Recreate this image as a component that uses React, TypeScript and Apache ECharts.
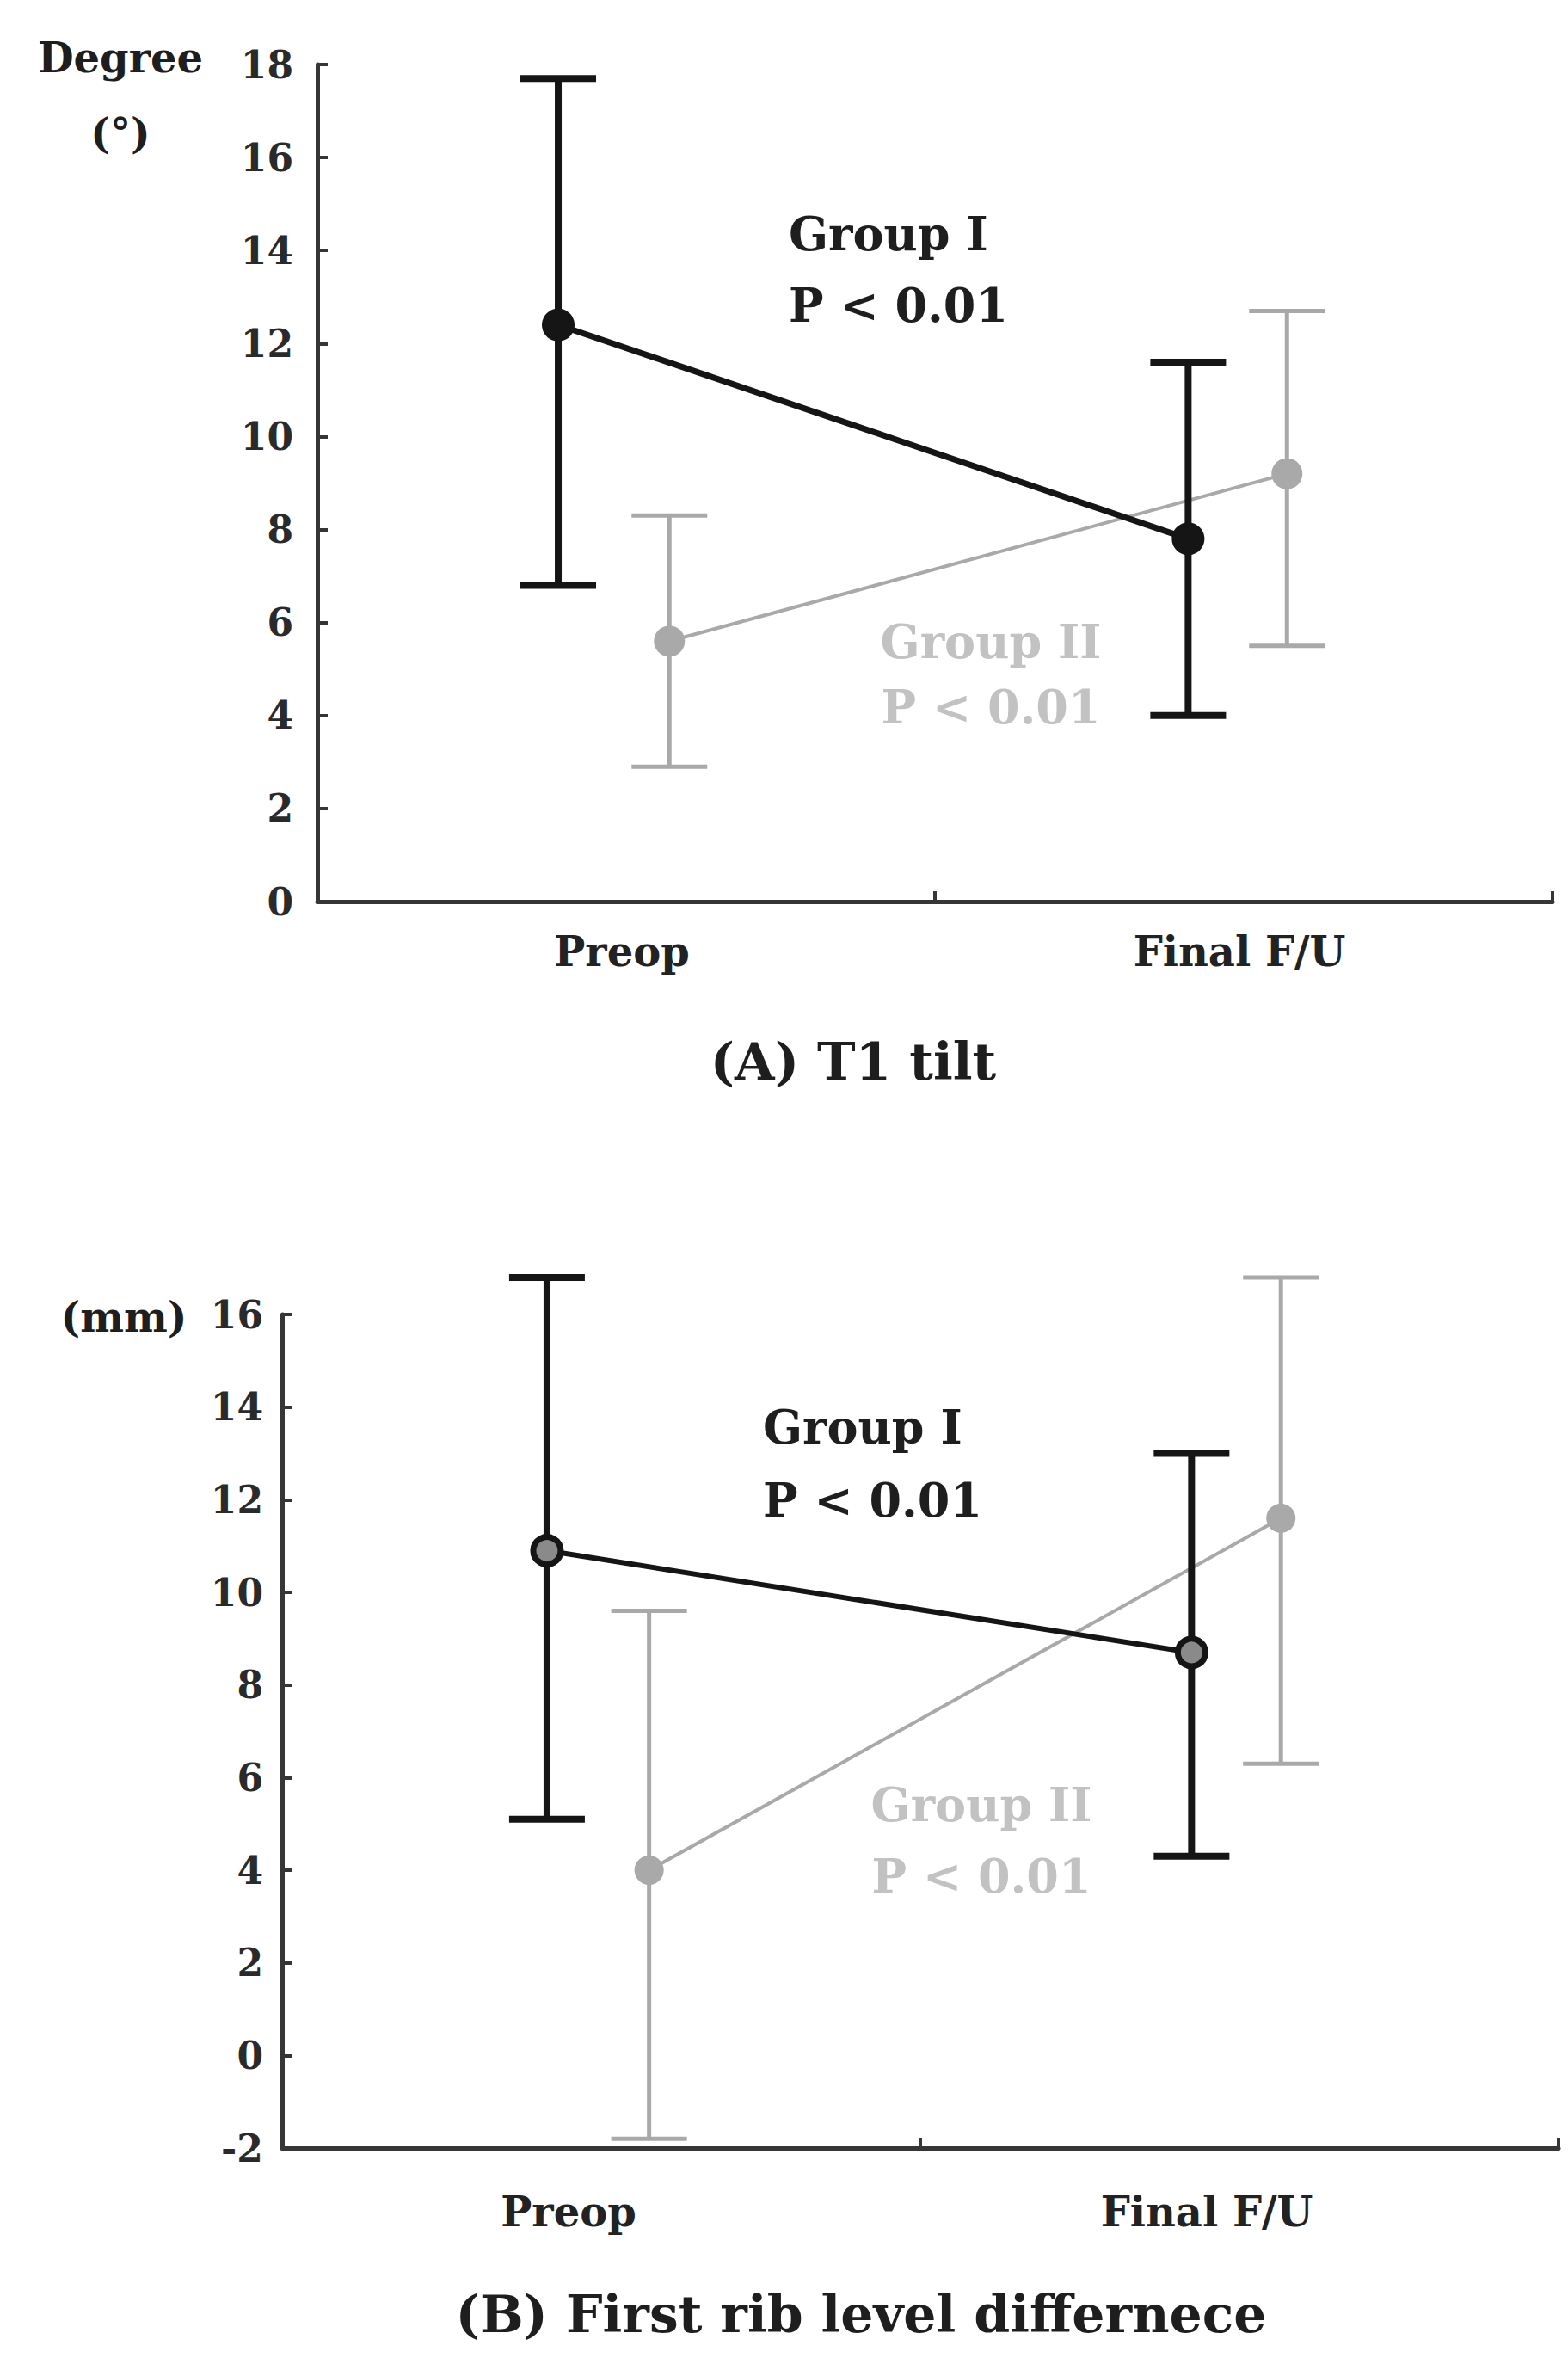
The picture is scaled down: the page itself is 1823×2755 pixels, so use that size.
import React, { useEffect, useRef } from "react";
import * as echarts from "echarts";

// ---------- data ----------
const categories = ["Preop", "Final F/U"];

// (A) T1 tilt, degrees
const tiltYTicks = { min: 0, max: 18, interval: 2 };
const tiltG1Pos = [0.39, 1.41];
const tiltG1Mean = [12.4, 7.8];
const tiltG1Upper = [17.7, 11.6];
const tiltG1Lower = [6.8, 4.0];
const tiltG2Pos = [0.57, 1.57];
const tiltG2Mean = [5.6, 9.2];
const tiltG2Upper = [8.3, 12.7];
const tiltG2Lower = [2.9, 5.5];

// (B) First rib level difference, mm
const ribYTicks = { min: -2, max: 16, interval: 2 };
const ribG1Pos = [0.415, 1.425];
const ribG1Mean = [10.9, 8.7];
const ribG1Upper = [16.8, 13.0];
const ribG1Lower = [5.1, 4.3];
const ribG2Pos = [0.575, 1.565];
const ribG2Mean = [4.0, 11.6];
const ribG2Upper = [9.6, 16.8];
const ribG2Lower = [-1.8, 6.3];

const titleA = "(A) T1 tilt";
const titleB = "(B) First rib level differnece";
const groupILabel = "Group I";
const groupIILabel = "Group II";
const pLabel = "P < 0.01";

// ---------- styles ----------
const FONT = "DejaVu Serif";
const BLACK = "#151515";
const GRAY = "#a9a9a9";
const GRAY_TEXT = "#c2c2c2";
const AXIS = "#363636";

function errorSeries(name: string, xIdx: number, yIdx: number, pos: number[], lo: number[], hi: number[], color: string, width: number, cap: number) {
  return {
    name,
    type: "custom",
    xAxisIndex: xIdx,
    yAxisIndex: yIdx,
    encode: { x: 0, y: [1, 2] },
    data: pos.map((p, i) => [p, lo[i], hi[i]]),
    z: 3,
    renderItem: (params: any, api: any) => {
      const x = api.value(0);
      const a = api.coord([x, api.value(1)]);
      const b = api.coord([x, api.value(2)]);
      const half = cap / 2;
      const style = { stroke: color, lineWidth: width };
      return {
        type: "group",
        children: [
          { type: "line", shape: { x1: a[0], y1: a[1], x2: b[0], y2: b[1] }, style },
          { type: "line", shape: { x1: a[0] - half, y1: a[1], x2: a[0] + half, y2: a[1] }, style },
          { type: "line", shape: { x1: b[0] - half, y1: b[1], x2: b[0] + half, y2: b[1] }, style },
        ],
      };
    },
  };
}

function meanSeries(name: string, xIdx: number, yIdx: number, pos: number[], mean: number[], color: string, lineW: number, symbol: string, size: number, fill: string, border: number, z: number) {
  return {
    name,
    type: "line",
    xAxisIndex: xIdx,
    yAxisIndex: yIdx,
    data: pos.map((p, i) => [p, mean[i]]),
    symbol,
    symbolSize: size,
    lineStyle: { color, width: lineW },
    itemStyle: { color: fill, borderColor: color, borderWidth: border },
    z,
  };
}

function catAxis(gridIndex: number, labelPadRight: number, margin: number) {
  return {
    type: "category",
    gridIndex,
    data: categories,
    boundaryGap: true,
    axisLine: { show: true, onZero: false, lineStyle: { color: AXIS, width: 5 } },
    axisTick: { show: true, inside: true, length: 12, interval: 0, lineStyle: { color: AXIS, width: 4 } },
    axisLabel: {
      show: true,
      interval: 0,
      fontFamily: FONT,
      fontWeight: "bold",
      fontSize: 48,
      color: "#222",
      margin,
      padding: [0, labelPadRight, 0, 0],
    },
    splitLine: { show: false },
  };
}

function valXAxis(gridIndex: number) {
  return { type: "value", gridIndex, min: 0, max: 2, show: false };
}

function yAxis(gridIndex: number, t: { min: number; max: number; interval: number }, margin: number) {
  return {
    type: "value",
    gridIndex,
    min: t.min,
    max: t.max,
    interval: t.interval,
    axisLine: { show: true, onZero: false, lineStyle: { color: AXIS, width: 5 } },
    axisTick: { show: true, inside: true, length: 12, lineStyle: { color: AXIS, width: 4 } },
    axisLabel: { fontFamily: FONT, fontWeight: "bold", fontSize: 44, color: "#2a2a2a", margin },
    splitLine: { show: false },
  };
}

function txt(text: string, x: number, y: number, size: number, color: string, align: string = "center") {
  return {
    type: "text",
    x,
    y,
    style: { text, fontFamily: FONT, fontWeight: "bold", fontSize: size, fill: color, textAlign: align, textVerticalAlign: "middle" },
  };
}

export default function App() {
  const ref = useRef<HTMLDivElement>(null);
  useEffect(() => {
    if (!ref.current) return;
    const chart = echarts.init(ref.current, null, { renderer: "svg" });
    chart.setOption({
      animation: false,
      backgroundColor: "#ffffff",
      grid: [
        { left: 369, top: 75, width: 1436, height: 973 },
        { left: 328, top: 1528, width: 1484, height: 969 },
      ],
      xAxis: [catAxis(0, 10, 34), valXAxis(0), catAxis(1, 76, 50), valXAxis(1)],
      yAxis: [yAxis(0, tiltYTicks, 28), yAxis(1, ribYTicks, 22)],
      series: [
        meanSeries("A Group II", 1, 0, tiltG2Pos, tiltG2Mean, GRAY, 4, "circle", 36, GRAY, 0, 2),
        errorSeries("A Group II err", 1, 0, tiltG2Pos, tiltG2Lower, tiltG2Upper, GRAY, 5, 88),
        meanSeries("A Group I", 1, 0, tiltG1Pos, tiltG1Mean, BLACK, 7, "circle", 38, BLACK, 0, 4),
        errorSeries("A Group I err", 1, 0, tiltG1Pos, tiltG1Lower, tiltG1Upper, BLACK, 8, 88),
        meanSeries("B Group II", 3, 1, ribG2Pos, ribG2Mean, GRAY, 4, "circle", 34, GRAY, 0, 2),
        errorSeries("B Group II err", 3, 1, ribG2Pos, ribG2Lower, ribG2Upper, GRAY, 5, 88),
        meanSeries("B Group I", 3, 1, ribG1Pos, ribG1Mean, BLACK, 6, "circle", 32, "#8a8a8a", 7, 4),
        errorSeries("B Group I err", 3, 1, ribG1Pos, ribG1Lower, ribG1Upper, BLACK, 8, 88),
      ],
      graphic: [
        txt("Degree", 140, 67, 48, "#1e1e1e"),
        txt("(°)", 140, 155, 48, "#1e1e1e"),
        txt(groupILabel, 917, 272, 54, "#1e1e1e", "left"),
        txt(pLabel, 917, 355, 54, "#1e1e1e", "left"),
        txt(groupIILabel, 1152, 746, 54, GRAY_TEXT),
        txt(pLabel, 1152, 822, 54, GRAY_TEXT),
        txt(titleA, 992, 1234, 60, "#1e1e1e"),
        txt("(mm)", 144, 1531, 48, "#1e1e1e"),
        txt(groupILabel, 887, 1659, 54, "#1e1e1e", "left"),
        txt(pLabel, 887, 1744, 54, "#1e1e1e", "left"),
        txt(groupIILabel, 1141, 2098, 54, GRAY_TEXT),
        txt(pLabel, 1141, 2181, 54, GRAY_TEXT),
        txt(titleB, 1001, 2690, 60, "#1e1e1e"),
      ],
    });
    return () => chart.dispose();
  }, []);
  return (
    <div
      ref={ref}
      style={{ position: "absolute", left: 0, top: 0, width: 1823, height: 2755, background: "#fff" }}
    />
  );
}
